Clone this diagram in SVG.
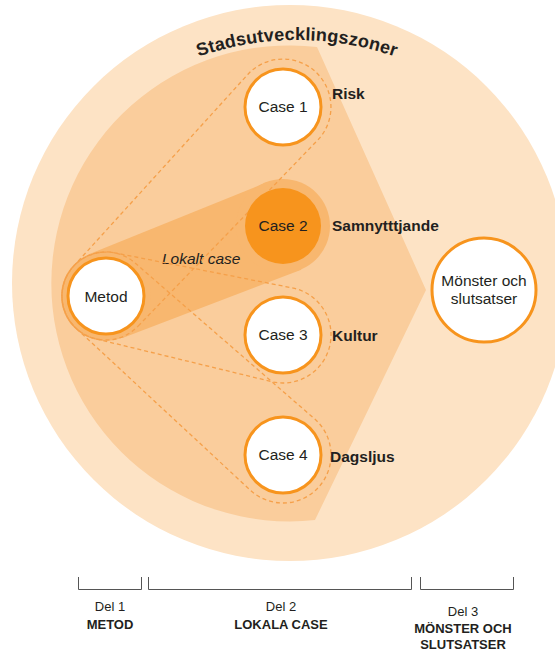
<svg xmlns="http://www.w3.org/2000/svg" width="555" height="652" viewBox="0 0 555 652">
<defs>
<style>
.t{font-family:"Liberation Sans",Arial,sans-serif;fill:#231f20}
.n{font-size:15.5px;text-anchor:middle}
.lb{font-size:15.5px;font-weight:bold}
.ring{fill:#fff;stroke:#f7941d;stroke-width:3}
.dash{fill:none;stroke:#f5a04a;stroke-width:1.3;stroke-dasharray:4 3}
.band{fill:#f8b76f}
.small{font-size:13px;text-anchor:middle}
.sb{font-size:13px;font-weight:bold;text-anchor:middle}
.br{fill:none;stroke:#555;stroke-width:1}
</style>
<path id="titleArc" d="M125,94.3 A300,300 0 0 1 469,94.3"/>
</defs>
<g id="zones">
<circle cx="290" cy="283" r="278" fill="#fde3c5"/>
<path d="M317,47 L426,290 L315,520 A238,238 0 1 1 317,47 Z" fill="#facd9c"/>
<text class="t" font-size="18" font-weight="bold" letter-spacing="0.2"><textPath href="#titleArc" startOffset="50%" text-anchor="middle">Stadsutvecklingszoner</textPath></text>
</g>
<g id="lokalt-case">
<polygon class="band" points="89.5,254.1 266.8,182.3 301.2,269.7 122.5,337.9"/>
<circle class="band" cx="106" cy="296" r="45"/>
<circle class="band" cx="283" cy="226" r="47"/>
<text class="t" x="162" y="264" font-size="15.5" font-style="italic">Lokalt case</text>
</g>
<g id="connectors">
<path class="dash" d="M138.1,326.1 L318,139.8 A48,48 0 0 0 315.8,72 A48,48 0 0 0 248,74.2 L73.9,265.9 A44,44 0 0 0 75.9,328.1 A44,44 0 0 0 138.1,326.1 Z"/>
<path class="dash" d="M96.5,339 L272.7,381.9 A48,48 0 0 0 329.9,345.3 A48,48 0 0 0 293.3,288.1 L115.5,253 A44,44 0 0 0 63,286.5 A44,44 0 0 0 96.5,339 Z"/>
<path class="dash" d="M76.6,328.7 L250.9,490.7 A48,48 0 0 0 318.7,487.1 A48,48 0 0 0 315.1,419.3 L135.4,263.3 A44,44 0 0 0 73.3,266.6 A44,44 0 0 0 76.6,328.7 Z"/>
</g>
<g id="metod">
<circle class="ring" cx="106" cy="296" r="38"/>
<text class="t n" x="106" y="302">Metod</text>
</g>
<g id="case1">
<circle class="ring" cx="283" cy="107" r="38"/>
<text class="t n" x="283" y="112">Case 1</text>
<text class="t lb" x="332" y="99">Risk</text>
</g>
<g id="case2">
<circle cx="283" cy="226" r="38" fill="#f7941d"/>
<text class="t n" x="283" y="231">Case 2</text>
<text class="t lb" x="332" y="231">Samnytttjande</text>
</g>
<g id="case3">
<circle class="ring" cx="283" cy="335" r="38"/>
<text class="t n" x="283" y="340">Case 3</text>
<text class="t lb" x="332" y="341">Kultur</text>
</g>
<g id="case4">
<circle class="ring" cx="283" cy="455" r="38"/>
<text class="t n" x="283" y="460">Case 4</text>
<text class="t lb" x="330" y="462">Dagsljus</text>
</g>
<g id="monster">
<circle class="ring" cx="484" cy="290" r="52"/>
<text class="t n" x="484" y="286">Mönster och</text>
<text class="t n" x="484" y="304">slutsatser</text>
</g>
<g id="parts">
<path class="br" d="M78.5,577 V589.5 H141.5 V577"/>
<path class="br" d="M148.5,577 V589.5 H411.5 V577"/>
<path class="br" d="M420.5,577 V589.5 H513.5 V577"/>
<text class="t small" x="110" y="611">Del 1</text>
<text class="t sb" x="110" y="629">METOD</text>
<text class="t small" x="281" y="611">Del 2</text>
<text class="t sb" x="281" y="629">LOKALA CASE</text>
<text class="t small" x="463" y="616">Del 3</text>
<text class="t sb" x="463" y="633">MÖNSTER OCH</text>
<text class="t sb" x="463" y="649">SLUTSATSER</text>
</g>
</svg>
